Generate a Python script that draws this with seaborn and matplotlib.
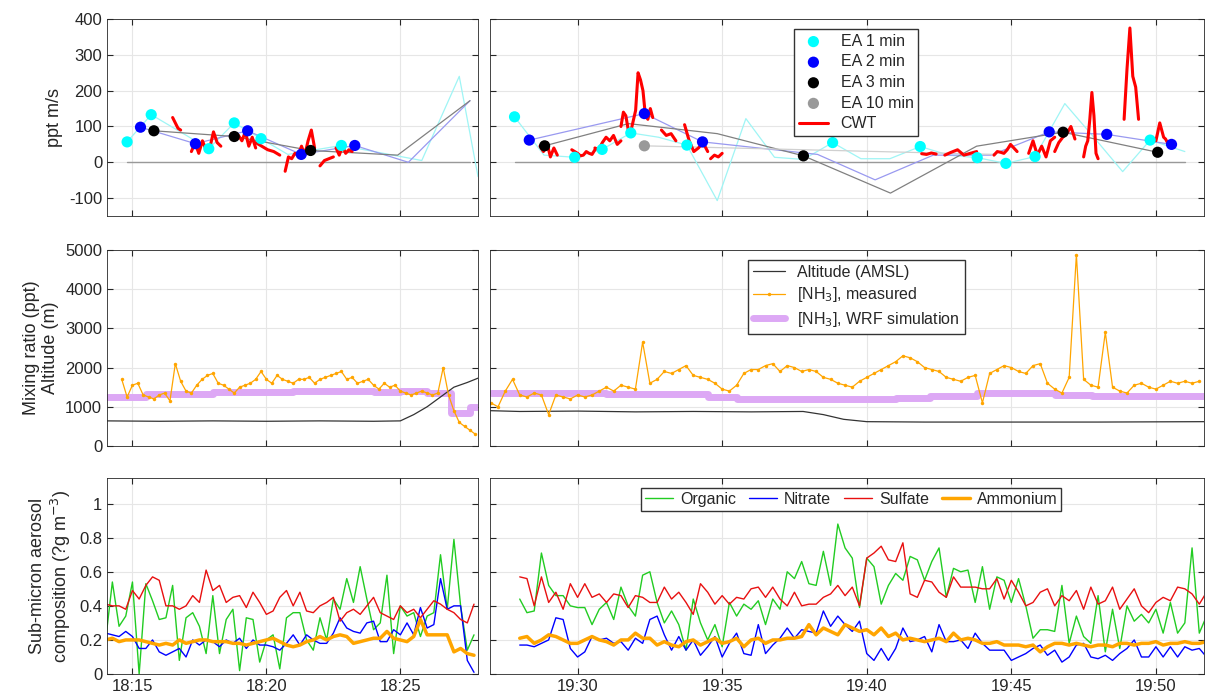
"""
NH3 flux / mixing ratio / aerosol composition time series (two flight legs)
"""

import numpy as np
import matplotlib
matplotlib.use("Agg")
import matplotlib.pyplot as plt
import seaborn as sns
from matplotlib.ticker import FuncFormatter, MultipleLocator

# ─────────────────────────────────────────────
# DATA  (times are minutes after the hour: leg 1 = 18:xx, leg 2 = 19:xx)
# ─────────────────────────────────────────────
# --- top row: eddy-accumulation fluxes (ppt m/s) ---
ea1_t_left = [14.8, 15.7, 17.85, 18.8, 19.8, 22.8]
ea1_v_left = [57, 133, 38, 110, 66, 47]
ea1_line_t_left = [14.8, 15.7, 17.85, 18.8, 19.8, 20.8, 22.8, 25.8, 27.2, 27.9]
ea1_line_v_left = [57, 133, 38, 110, 66, 22, 47, 5, 240, -40]
ea2_t_left = [15.3, 17.35, 19.3, 21.3, 23.3]
ea2_v_left = [98, 52, 88, 22, 47]
ea2_line_t_left = [15.3, 17.35, 19.3, 21.3, 23.3, 25.3, 27.6]
ea2_line_v_left = [98, 52, 88, 22, 47, 0, 172]
ea3_t_left = [15.8, 18.8, 21.65]
ea3_v_left = [88, 72, 33]
ea3_line_t_left = [15.8, 18.8, 21.65, 24.9, 27.6]
ea3_line_v_left = [88, 72, 33, 20, 172]
zero_left = [14.8, 27.6]

cwt_left = [  # (start, end, values)
    (16.5, 16.8, [125, 110, 95, 90]),
    (17.2, 18.3, [30, 55, 25, 60, 35, 40, 85, 55, 45]),
    (18.7, 19.6, [80, 65, 75, 60, 85, 45, 70, 40]),
    (19.6, 20.5, [55, 45, 35, 30, 20]),
    (20.7, 21.8, [-25, 15, 10, 25, 20, 45, 20, 60, 90, 40]),
    (22.0, 22.5, [-10, 5, 10, 15]),
    (22.6, 23.2, [40, 20, 45, 25, 35, 30]),
]

ea1_t_right = [27.82, 29.9, 30.85, 31.84, 33.78, 38.82, 41.85, 43.82, 44.81, 45.82, 49.8]
ea1_v_right = [127, 14, 36, 82, 48, 55, 44, 13, -3, 16, 62]
ea1_line_t_right = [27.82, 28.84, 29.9, 30.85, 31.84, 32.8, 33.78, 34.83, 35.82, 36.81,
                    37.81, 38.82, 39.8, 40.8, 41.85, 42.84, 43.82, 44.81, 45.82, 46.85,
                    47.84, 48.85, 49.8, 51.0]
ea1_line_v_right = [127, 20, 14, 36, 82, 70, 48, -107, 122, 14,
                    8, 55, 10, 10, 44, 20, 13, -3, 16, 164,
                    71, -26, 62, 30]
ea2_t_right = [28.33, 32.31, 34.32, 46.31, 48.3, 50.54]
ea2_v_right = [62, 136, 57, 85, 78, 50]
ea2_line_t_right = [28.33, 32.31, 34.32, 38.3, 40.29, 42.3, 44.3, 46.31, 48.3, 50.54]
ea2_line_v_right = [62, 136, 57, 22, -49, 20, 20, 85, 78, 50]
ea3_t_right = [28.86, 37.81, 46.79, 50.06]
ea3_v_right = [46, 18, 84, 28]
ea3_line_t_right = [28.86, 31.76, 34.83, 37.81, 40.82, 43.8, 46.79, 50.06]
ea3_line_v_right = [46, 108, 80, 18, -86, 45, 84, 28]
ea10_t_right = [32.31]
ea10_v_right = [46]
ea10_line_t_right = [32.31, 44.43]
ea10_line_v_right = [46, 22]
zero_right = [27.82, 51.0]

cwt_right = [
    (28.7, 29.3, [45, 30, 55, 15, 40, 20]),
    (29.8, 30.6, [35, 30, 25, 18, 20, 30, 25, 22, 35]),
    (30.6, 31.5, [40, 35, 55, 70, 60, 75, 50, 60]),
    (31.5, 32.6, [100, 140, 130, 90, 85, 115, 145, 250, 230, 200, 130, 120, 150, 125]),
    (32.9, 33.4, [90, 75, 80, 60]),
    (33.7, 34.5, [105, 60, 30, 40, 55, 30]),
    (34.6, 35.0, [10, 20, 15, 25]),
    (41.9, 42.4, [24, 22, 26, 23]),
    (42.7, 43.8, [20, 28, 35, 20, 25, 30]),
    (44.4, 45.2, [20, 30, 28, 25, 35, 50, 40, 30]),
    (45.6, 46.5, [25, 60, 20, 45, 15, 60, 70]),
    (46.5, 47.2, [30, 55, 70, 80, 100, 65]),
    (47.5, 48.0, [15, 45, 60, 120, 195, 130, 25, 10]),
    (48.9, 49.4, [120, 260, 375, 240, 210, 120]),
    (50.0, 50.4, [60, 85, 110, 90, 70, 65, 55]),
]

# --- middle row: altitude and NH3 mixing ratio ---
alt_t_left = [14.05, 16, 18, 20, 22, 24, 25.0, 25.5, 26, 26.5, 27, 27.5, 27.9]
alt_v_left = [640, 630, 640, 630, 640, 630, 640, 800, 1000, 1250, 1500, 1620, 1730]
nh3_start_left, nh3_step_left = 14.6, 0.2
nh3_left = [1700, 1250, 1550, 1600, 1300, 1250, 1200, 1300, 1350, 1150,
            2100, 1650, 1400, 1350, 1550, 1700, 1800, 1850, 1600, 1550,
            1450, 1350, 1500, 1550, 1600, 1700, 1900, 1700, 1600, 1800,
            1700, 1650, 1600, 1700, 1700, 1750, 1600, 1700, 1750, 1800,
            1850, 1900, 1700, 1750, 1600, 1650, 1700, 1550, 1450, 1600,
            1500, 1550, 1400, 1350, 1300, 1350, 1400, 1350, 1300, 1350,
            2000, 1300, 900, 600, 500, 400, 300]
wrf_t_left = [14.05, 15.5, 18.0, 21.0, 24.0, 25.0, 26.0, 26.9, 27.6, 27.9]
wrf_v_left = [1250, 1330, 1380, 1400, 1380, 1400, 1350, 850, 1000, 1000]

alt_t_right = [27.0, 28, 30, 32, 34, 36, 37.8, 38.5, 39.2, 40.0, 42, 44, 46, 48, 51.66]
alt_v_right = [900, 880, 890, 870, 880, 870, 880, 800, 680, 620, 610, 610, 610, 610, 620]
nh3_start_right, nh3_step_right = 27.0, 0.25
nh3_right = [1100, 1000, 1400, 1700, 1300, 1250, 1350, 1300, 800, 1300,
             1250, 1200, 1300, 1250, 1300, 1400, 1500, 1400, 1550, 1500,
             1450, 2650, 1600, 1700, 1900, 1850, 1950, 2050, 1800, 1750,
             1700, 1600, 1450, 1400, 1550, 1850, 1950, 1950, 2050, 2100,
             1900, 2050, 2000, 1900, 1950, 1900, 1750, 1700, 1600, 1550,
             1500, 1650, 1750, 1850, 1950, 2050, 2150, 2300, 2250, 2150,
             2000, 1950, 1900, 1750, 1700, 1650, 1750, 1800, 1100, 1850,
             1950, 2050, 2000, 1900, 1850, 2050, 2100, 1600, 1450, 1350,
             1750, 4880, 1700, 1550, 1500, 2900, 1500, 1400, 1350, 1550,
             1600, 1500, 1450, 1550, 1650, 1600, 1650, 1600, 1650]
wrf_t_right = [27, 29, 31, 33, 34.5, 35.5, 37.0, 39.5, 41.0, 42.2, 43.8, 46.5, 47.8, 51.66]
wrf_v_right = [1360, 1340, 1330, 1320, 1250, 1210, 1190, 1200, 1230, 1280, 1340, 1300, 1280, 1280]

# --- bottom row: aerosol composition (ug m-3) ---
aer_start_left, aer_step_left = 14.0, 0.25
organic_left = [0.20, 0.54, 0.28, 0.34, 0.54, 0.00, 0.53, 0.43, 0.32, 0.33,
                0.52, 0.08, 0.33, 0.36, 0.28, 0.12, 0.46, 0.12, 0.32, 0.38,
                0.02, 0.33, 0.32, 0.07, 0.20, 0.23, 0.03, 0.33, 0.36, 0.36,
                0.20, 0.14, 0.33, 0.20, 0.44, 0.38, 0.56, 0.42, 0.63, 0.44,
                0.26, 0.30, 0.58, 0.12, 0.40, 0.34, 0.36, 0.22, 0.34, 0.36,
                0.70, 0.38, 0.79, 0.40, 0.14, 0.23]
sulfate_left = [0.41, 0.40, 0.40, 0.38, 0.49, 0.44, 0.52, 0.57, 0.55, 0.40,
                0.40, 0.38, 0.40, 0.46, 0.42, 0.61, 0.49, 0.52, 0.42, 0.45,
                0.46, 0.39, 0.48, 0.42, 0.35, 0.37, 0.45, 0.49, 0.40, 0.48,
                0.37, 0.36, 0.40, 0.42, 0.45, 0.31, 0.36, 0.38, 0.35, 0.40,
                0.45, 0.36, 0.34, 0.32, 0.40, 0.36, 0.38, 0.33, 0.38, 0.43,
                0.41, 0.38, 0.36, 0.32, 0.30, 0.41]
nitrate_left = [0.24, 0.23, 0.22, 0.25, 0.22, 0.15, 0.15, 0.20, 0.13, 0.11,
                0.13, 0.15, 0.10, 0.20, 0.17, 0.20, 0.19, 0.16, 0.20, 0.18,
                0.21, 0.15, 0.20, 0.17, 0.17, 0.16, 0.14, 0.18, 0.23, 0.17,
                0.23, 0.20, 0.18, 0.18, 0.24, 0.33, 0.27, 0.25, 0.24, 0.30,
                0.31, 0.19, 0.19, 0.26, 0.23, 0.30, 0.23, 0.39, 0.27, 0.29,
                0.56, 0.38, 0.40, 0.40, 0.08, 0.01]
ammonium_left = [0.20, 0.21, 0.19, 0.20, 0.20, 0.20, 0.19, 0.18, 0.17, 0.18,
                 0.17, 0.20, 0.18, 0.19, 0.20, 0.20, 0.19, 0.19, 0.19, 0.18,
                 0.18, 0.17, 0.18, 0.19, 0.20, 0.21, 0.19, 0.17, 0.16, 0.17,
                 0.19, 0.20, 0.22, 0.20, 0.22, 0.23, 0.22, 0.18, 0.19, 0.20,
                 0.21, 0.21, 0.25, 0.21, 0.20, 0.19, 0.22, 0.32, 0.23, 0.23,
                 0.23, 0.23, 0.13, 0.15, 0.12, 0.11]

aer_start_right, aer_step_right = 28.0, 0.25
organic_right = [0.44, 0.36, 0.37, 0.71, 0.52, 0.46, 0.46, 0.40, 0.39, 0.39, 0.29, 0.38,
                 0.42, 0.32, 0.51, 0.40, 0.34, 0.58, 0.60, 0.42, 0.30, 0.37, 0.29, 0.14,
                 0.44, 0.30, 0.20, 0.29, 0.16, 0.42, 0.34, 0.41, 0.38, 0.43, 0.29, 0.44,
                 0.38, 0.60, 0.56, 0.66, 0.53, 0.52, 0.72, 0.52, 0.88, 0.74, 0.68, 0.39,
                 0.68, 0.63, 0.41, 0.52, 0.59, 0.55, 0.69, 0.67, 0.55, 0.66, 0.74, 0.45,
                 0.62, 0.60, 0.61, 0.42, 0.63, 0.38, 0.57, 0.55, 0.42, 0.56, 0.40, 0.21,
                 0.26, 0.26, 0.25, 0.52, 0.18, 0.34, 0.22, 0.18, 0.46, 0.13, 0.38, 0.15,
                 0.40, 0.31, 0.35, 0.30, 0.38, 0.24, 0.42, 0.24, 0.30, 0.74, 0.24, 0.34]
sulfate_right = [0.57, 0.56, 0.40, 0.57, 0.42, 0.48, 0.38, 0.53, 0.45, 0.53, 0.45, 0.47,
                 0.42, 0.47, 0.46, 0.39, 0.46, 0.45, 0.42, 0.42, 0.51, 0.44, 0.48, 0.42,
                 0.35, 0.53, 0.48, 0.41, 0.46, 0.41, 0.45, 0.44, 0.50, 0.51, 0.45, 0.51,
                 0.44, 0.40, 0.48, 0.40, 0.41, 0.41, 0.45, 0.47, 0.52, 0.46, 0.51, 0.40,
                 0.68, 0.71, 0.75, 0.67, 0.66, 0.77, 0.47, 0.45, 0.55, 0.54, 0.48, 0.45,
                 0.57, 0.51, 0.51, 0.51, 0.50, 0.50, 0.56, 0.44, 0.55, 0.48, 0.40, 0.42,
                 0.48, 0.50, 0.40, 0.46, 0.43, 0.49, 0.38, 0.51, 0.41, 0.43, 0.51, 0.38,
                 0.44, 0.50, 0.40, 0.36, 0.42, 0.45, 0.43, 0.51, 0.50, 0.47, 0.41, 0.48]
nitrate_right = [0.17, 0.17, 0.16, 0.18, 0.20, 0.33, 0.32, 0.15, 0.10, 0.13, 0.22, 0.20,
                 0.21, 0.18, 0.19, 0.14, 0.21, 0.18, 0.32, 0.34, 0.23, 0.14, 0.22, 0.14,
                 0.20, 0.11, 0.16, 0.22, 0.10, 0.18, 0.24, 0.12, 0.11, 0.29, 0.12, 0.17,
                 0.21, 0.27, 0.21, 0.26, 0.25, 0.24, 0.37, 0.28, 0.34, 0.29, 0.25, 0.31,
                 0.12, 0.08, 0.15, 0.08, 0.15, 0.27, 0.19, 0.20, 0.22, 0.13, 0.29, 0.19,
                 0.19, 0.20, 0.15, 0.24, 0.18, 0.14, 0.14, 0.14, 0.08, 0.10, 0.12, 0.15,
                 0.17, 0.11, 0.14, 0.07, 0.10, 0.17, 0.18, 0.10, 0.09, 0.11, 0.08, 0.12,
                 0.15, 0.20, 0.10, 0.10, 0.16, 0.10, 0.16, 0.10, 0.16, 0.14, 0.15, 0.10]
ammonium_right = [0.21, 0.22, 0.18, 0.20, 0.23, 0.22, 0.20, 0.18, 0.18, 0.20, 0.22, 0.20,
                  0.19, 0.17, 0.20, 0.20, 0.24, 0.21, 0.21, 0.17, 0.19, 0.17, 0.16, 0.19,
                  0.20, 0.17, 0.19, 0.21, 0.18, 0.19, 0.21, 0.16, 0.20, 0.21, 0.18, 0.20,
                  0.20, 0.21, 0.21, 0.22, 0.29, 0.23, 0.27, 0.25, 0.23, 0.29, 0.27, 0.25,
                  0.26, 0.23, 0.27, 0.22, 0.24, 0.20, 0.21, 0.20, 0.19, 0.20, 0.21, 0.19,
                  0.24, 0.20, 0.21, 0.20, 0.18, 0.18, 0.19, 0.17, 0.17, 0.17, 0.16, 0.17,
                  0.13, 0.16, 0.18, 0.18, 0.17, 0.18, 0.17, 0.16, 0.17, 0.17, 0.16, 0.18,
                  0.18, 0.17, 0.18, 0.18, 0.19, 0.17, 0.18, 0.18, 0.19, 0.18, 0.18, 0.19]

# ─────────────────────────────────────────────
# STYLE
# ─────────────────────────────────────────────
sns.set_style("whitegrid")
plt.rcParams['font.family'] = ['Liberation Sans', 'DejaVu Sans']
plt.rcParams['font.size'] = 12
plt.rcParams['axes.unicode_minus'] = False

CYAN, BLUE, RED, ORANGE = '#00FFFF', '#0000FF', '#FF0000', '#FFA500'
PURPLE, GREEN, GRAY = '#DDA8F5', '#22CC22', '#999999'

fig = plt.figure(figsize=(12.05, 7.0), dpi=100)
lx, lw_ = 0.0888, 0.3079
rx, rw = 0.4066, 0.5925
rows = [(0.6914, 0.2814), (0.3629, 0.2800), (0.0371, 0.2800)]
axes = [[fig.add_axes([lx, b, lw_, h]), fig.add_axes([rx, b, rw, h])] for b, h in rows]


def line(ax, t, v, **kw):
    sns.lineplot(x=np.asarray(t, float), y=np.asarray(v, float), ax=ax,
                 sort=False, estimator=None, **kw)


def grid_times(start, step, vals):
    return start + step * np.arange(len(vals))


# ─────────────────────────────────────────────
# TOP ROW: fluxes
# ─────────────────────────────────────────────
def draw_flux(ax, zero, lines, dots, cwt, with_label):
    line(ax, zero, [0, 0], color=GRAY, lw=1.0)
    for t, v, c in lines:
        line(ax, t, v, color=c, lw=0.9)
    for i, (s, e, vals) in enumerate(cwt):
        lab = "CWT" if (with_label and i == 0) else None
        line(ax, np.linspace(s, e, len(vals)), vals, color=RED, lw=2.2, label=lab)
    for t, v, c, lab in dots:
        sns.scatterplot(x=t, y=v, ax=ax, color=c, s=65, edgecolor='none', zorder=5,
                        label=lab if with_label else None)


ax = axes[0][0]
draw_flux(ax, zero_left,
          [(ea1_line_t_left, ea1_line_v_left, '#9FF5F5'),
           (ea2_line_t_left, ea2_line_v_left, '#9999F0'),
           (ea3_line_t_left, ea3_line_v_left, '#808080')],
          [(ea1_t_left, ea1_v_left, CYAN, None), (ea2_t_left, ea2_v_left, BLUE, None),
           (ea3_t_left, ea3_v_left, 'black', None)],
          cwt_left, False)

ax = axes[0][1]
draw_flux(ax, zero_right,
          [(ea1_line_t_right, ea1_line_v_right, '#9FF5F5'),
           (ea2_line_t_right, ea2_line_v_right, '#9999F0'),
           (ea3_line_t_right, ea3_line_v_right, '#808080'),
           (ea10_line_t_right, ea10_line_v_right, '#D0D0D0')],
          [(ea1_t_right, ea1_v_right, CYAN, "EA 1 min"),
           (ea2_t_right, ea2_v_right, BLUE, "EA 2 min"),
           (ea3_t_right, ea3_v_right, 'black', "EA 3 min"),
           (ea10_t_right, ea10_v_right, GRAY, "EA 10 min")],
          cwt_right, True)
h, l = ax.get_legend_handles_labels()
order = [l.index(k) for k in ["EA 1 min", "EA 2 min", "EA 3 min", "EA 10 min", "CWT"]]
ax.legend([h[i] for i in order], [l[i] for i in order], loc='upper left',
          bbox_to_anchor=(0.415, 0.99), fontsize=11.5, frameon=True, fancybox=False,
          edgecolor='#333333', framealpha=1, handlelength=1.8, borderpad=0.3,
          labelspacing=0.35)

for a in axes[0]:
    a.set_ylim(-150, 400)
    a.yaxis.set_major_locator(MultipleLocator(100))
axes[0][0].set_ylabel("ppt m/s", fontsize=13)

# ─────────────────────────────────────────────
# MIDDLE ROW: altitude and NH3
# ─────────────────────────────────────────────
for ax, at, av, ns, nst, nv, wt, wv, lab in [
        (axes[1][0], alt_t_left, alt_v_left, nh3_start_left, nh3_step_left, nh3_left,
         wrf_t_left, wrf_v_left, False),
        (axes[1][1], alt_t_right, alt_v_right, nh3_start_right, nh3_step_right, nh3_right,
         wrf_t_right, wrf_v_right, True)]:
    line(ax, wt, wv, color=PURPLE, lw=5, drawstyle='steps-post',
         label=r"[NH$_3$], WRF simulation" if lab else None)
    line(ax, at, av, color='#333333', lw=0.9, label="Altitude (AMSL)" if lab else None)
    line(ax, grid_times(ns, nst, nv), nv, color=ORANGE, lw=0.9, marker='.',
         markersize=5, markeredgewidth=0, label=r"[NH$_3$], measured" if lab else None)
    ax.set_ylim(0, 5000)
    ax.yaxis.set_major_locator(MultipleLocator(1000))

ax = axes[1][1]
h, l = ax.get_legend_handles_labels()
order = [l.index("Altitude (AMSL)"), l.index(r"[NH$_3$], measured"),
         l.index(r"[NH$_3$], WRF simulation")]
ax.legend([h[i] for i in order], [l[i] for i in order], loc='upper left',
          bbox_to_anchor=(0.35, 0.99), fontsize=11.5, frameon=True, fancybox=False,
          edgecolor='#333333', framealpha=1, borderpad=0.3, labelspacing=0.35)
axes[1][0].set_ylabel("Mixing ratio (ppt)\nAltitude (m)", fontsize=13)

# ─────────────────────────────────────────────
# BOTTOM ROW: aerosol composition
# ─────────────────────────────────────────────
for ax, s, st, org, nit, sul, amm, lab in [
        (axes[2][0], aer_start_left, aer_step_left, organic_left, nitrate_left,
         sulfate_left, ammonium_left, False),
        (axes[2][1], aer_start_right, aer_step_right, organic_right, nitrate_right,
         sulfate_right, ammonium_right, True)]:
    t = grid_times(s, st, org)
    line(ax, t, org, color=GREEN, lw=1.0, label="Organic" if lab else None)
    line(ax, t, nit, color=BLUE, lw=1.0, label="Nitrate" if lab else None)
    line(ax, t, sul, color='#E81010', lw=1.0, label="Sulfate" if lab else None)
    line(ax, t, amm, color=ORANGE, lw=2.5, label="Ammonium" if lab else None)
    ax.set_ylim(0, 1.15)
    ax.yaxis.set_major_locator(MultipleLocator(0.2))
axes[2][1].legend(loc='upper left', bbox_to_anchor=(0.2, 0.99), ncol=4, fontsize=11.5,
                  frameon=True, fancybox=False, edgecolor='#333333', framealpha=1,
                  handlelength=1.8, columnspacing=0.8, handletextpad=0.4, borderpad=0.25)
axes[2][0].set_ylabel("Sub-micron aerosol\ncomposition (?g m$^{-3}$)", fontsize=13)
axes[2][0].yaxis.set_major_formatter(FuncFormatter(lambda v, p: f"{v:g}"))

# ─────────────────────────────────────────────
# AXES COSMETICS
# ─────────────────────────────────────────────
for r in range(3):
    for c in range(2):
        a = axes[r][c]
        if c == 0:
            a.set_xlim(14.05, 27.9)
            a.set_xticks([15, 20, 25])
            hour = 18
        else:
            a.set_xlim(26.97, 51.66)
            a.set_xticks([30, 35, 40, 45, 50])
            hour = 19
            a.set_yticklabels([])
        a.xaxis.set_major_formatter(FuncFormatter(lambda v, p, hr=hour: f"{hr}:{int(round(v)):02d}"))
        if r < 2:
            a.set_xticklabels([])
        a.grid(True, color='#E6E6E6', lw=0.8)
        a.tick_params(direction='in', length=4, labelsize=12, colors='#262626',
                      top=True, right=True, left=True, bottom=True)
        for sp in a.spines.values():
            sp.set_color('#262626')
            sp.set_linewidth(0.6)
        a.set_xlabel("")

fig.savefig("out.png", dpi=100)
